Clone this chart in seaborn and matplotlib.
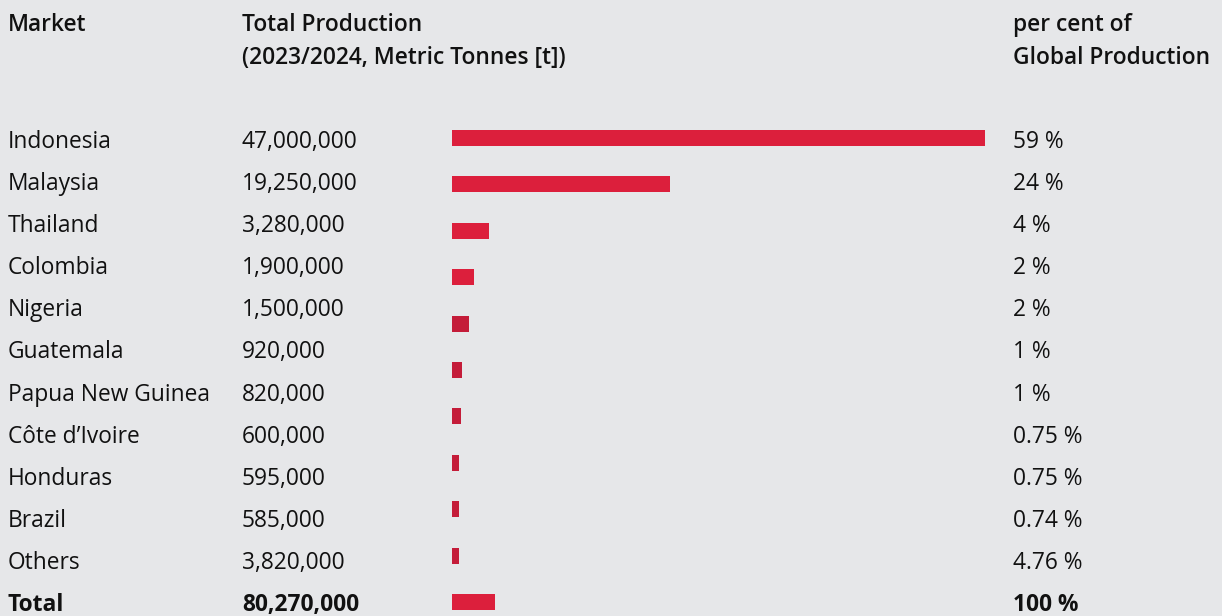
import numpy as np
import pandas as pd
import matplotlib
matplotlib.use("Agg")
import matplotlib.pyplot as plt
import seaborn as sns

# ---- data ----
markets = ["Indonesia", "Malaysia", "Thailand", "Colombia", "Nigeria", "Guatemala",
           "Papua New Guinea", "Côte d\u2019Ivoire", "Honduras", "Brazil", "Others"]
production = [47000000, 19250000, 3280000, 1900000, 1500000, 920000,
              820000, 600000, 595000, 585000, 3820000]
production_labels = ["47,000,000", "19,250,000", "3,280,000", "1,900,000", "1,500,000",
                     "920,000", "820,000", "600,000", "595,000", "585,000", "3,820,000"]
share_labels = ["59 %", "24 %", "4 %", "2 %", "2 %", "1 %", "1 %",
                "0.75 %", "0.75 %", "0.74 %", "4.76 %"]
total_label = "Total"
total_production_label = "80,270,000"
total_share_label = "100 %"

headers = ["Market", "Total Production\n(2023/2024, Metric Tonnes [t])",
           "per cent of\nGlobal Production"]

# ---- style ----
BG = "#e6e7e9"
RED = "#dc1f3c"
DARK_RED = "#c41c39"
FONT = ["Open Sans", "DejaVu Sans"]

sns.set_theme(style="white")
plt.rcParams["font.family"] = FONT

W, H = 1222, 616
fig = plt.figure(figsize=(W / 100, H / 100), dpi=100)
fig.patch.set_facecolor(BG)

# bar axes
top_px, bot_px = 100, 616
first_c, last_c = 138, 602
n = len(markets)
step = (last_c - first_c) / (n - 1)
y_top = -(first_c - top_px) / step
y_bot = (n - 1) + (bot_px - last_c) / step
left_px, width_px = 452, 533
ax = fig.add_axes([left_px / W, 0, width_px / W, (bot_px - top_px) / H])
ax.set_facecolor("none")

df = pd.DataFrame({"market": markets, "production": production})
colors = [RED if (v > 1.8e6) else DARK_RED for v in production]
sns.barplot(data=df, y="market", x="production", hue="market", palette=colors,
            orient="h", width=16 / step, legend=False, ax=ax, saturation=1,
            linewidth=0, edgecolor="none")
ax.set_xlim(0, 47000000)
ax.set_ylim(y_bot, y_top)
ax.axis("off")

# text axes covering full figure in pixel units
tax = fig.add_axes([0, 0, 1, 1])
tax.set_xlim(0, W)
tax.set_ylim(H, 0)
tax.axis("off")
tax.patch.set_alpha(0)

fs = 16.4
TXT = "#111111"
col_x = [8, 242, 1013]
tax.text(col_x[0], 22, headers[0], fontsize=fs, fontweight="semibold", va="center_baseline",
         color=TXT)
for j in (1, 2):
    l1, l2 = headers[j].split("\n")
    tax.text(col_x[j], 22, l1, fontsize=fs, fontweight="semibold", va="center_baseline", color=TXT)
    tax.text(col_x[j], 55, l2, fontsize=fs, fontweight="semibold", va="center_baseline", color=TXT)

rows_y = np.linspace(139, 602, n + 1)
for i in range(n):
    tax.text(col_x[0], rows_y[i], markets[i], fontsize=fs, va="center_baseline", color=TXT)
    tax.text(col_x[1], rows_y[i], production_labels[i], fontsize=fs, va="center_baseline", color=TXT)
    tax.text(col_x[2], rows_y[i], share_labels[i], fontsize=fs, va="center_baseline", color=TXT)
tax.text(col_x[0], rows_y[n], total_label, fontsize=fs, va="center_baseline", fontweight="bold", color=TXT)
tax.text(col_x[1], rows_y[n], total_production_label, fontsize=fs, va="center_baseline",
         fontweight="bold", color=TXT)
tax.text(col_x[2], rows_y[n], total_share_label, fontsize=fs, va="center_baseline",
         fontweight="bold", color=TXT)

fig.savefig("out.png", dpi=100, facecolor=BG)
